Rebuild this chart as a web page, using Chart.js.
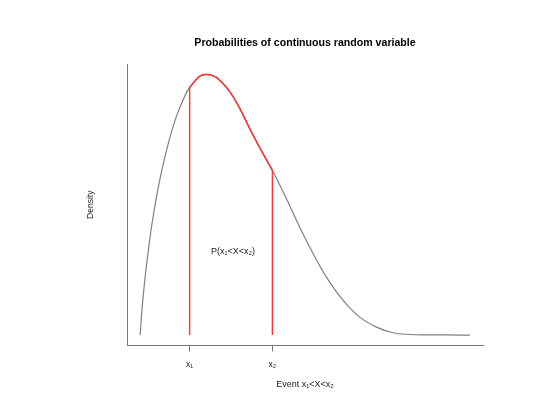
<!DOCTYPE html>
<html>
<head>
<meta charset="utf-8">
<title>Probabilities of continuous random variable</title>
<script src="https://cdn.jsdelivr.net/npm/chart.js@4.4.1/dist/chart.umd.min.js"></script>
<style>
    html, body { margin: 0; padding: 0; background: #fff; }
    #wrap { width: 534px; height: 409px; }
</style>
</head>
<body>
<div id="wrap"><canvas id="grafico"></canvas></div>
<script>
// Curva de densidad
const densityX = [0, 0.06, 0.16, 0.26, 0.36, 0.52, 0.67, 0.87, 1.10, 1.35, 1.50, 1.80, 2.00, 2.31, 2.71, 3.02, 3.32, 3.62, 4.01, 4.43, 4.84, 5.24, 5.65, 6.15, 6.66, 7.17, 7.67, 8.18, 8.70, 9.30, 10];
const densityY = [0, 0.028, 0.061, 0.088, 0.112, 0.143, 0.167, 0.194, 0.219, 0.239, 0.248, 0.259, 0.261, 0.258, 0.244, 0.227, 0.207, 0.188, 0.165, 0.137, 0.108, 0.082, 0.058, 0.035, 0.018, 0.008, 0.0023, 0.0006, 0.0002, 0.0001, 0];

// Tramo entre x1 y x2 (en rojo)
const areaX = [1.50, 1.80, 2.00, 2.31, 2.71, 3.02, 3.32, 3.62, 4.01];
const areaY = [0.248, 0.259, 0.261, 0.258, 0.244, 0.227, 0.207, 0.188, 0.165];

const eventBounds = [1.50, 4.01];
const tickLabels = ['x₁', 'x₂'];

const chartTitle = 'Probabilities of continuous random variable';
const xTitle = 'Event x₁<X<x₂';
const yTitle = 'Density';
const areaLabel = 'P(x₁<X<x₂)';

document.addEventListener('DOMContentLoaded', () => {
    const toPoints = (xs, ys) => xs.map((x, i) => ({ x: x, y: ys[i] }));
    const boundTop = [areaY[0], areaY[areaY.length - 1]];

    // rango como en R: 4% de margen a cada lado
    const xPad = (densityX[densityX.length - 1] - densityX[0]) * 0.04;
    const yMax = Math.max(...densityY);
    const yPad = yMax * 0.04;
    const fuente = '"Liberation Sans", Arial, sans-serif';

    const textos = {
        id: 'textos',
        afterDraw(chart) {
            const { ctx, chartArea, scales } = chart;
            const cx = (chartArea.left + chartArea.right) / 2;
            ctx.save();
            ctx.fillStyle = '#000';
            ctx.textAlign = 'center';
            ctx.textBaseline = 'middle';

            ctx.font = 'bold 10.6px ' + fuente;
            ctx.fillText(chartTitle, cx, chartArea.top - 21);

            ctx.fillStyle = '#222';
            ctx.font = '9px ' + fuente;
            ctx.fillText(xTitle, cx, chartArea.bottom + 39.5);

            const px = scales.x.getPixelForValue((eventBounds[0] + eventBounds[1]) / 2);
            const py = scales.y.getPixelForValue(yMax * 0.32);
            ctx.fillText(areaLabel, px + 2, py);

            ctx.font = '8.5px ' + fuente;
            ctx.translate(chartArea.left - 36, (chartArea.top + chartArea.bottom) / 2);
            ctx.rotate(-Math.PI / 2);
            ctx.fillText(yTitle, 0, 0);
            ctx.restore();
        }
    };

    const lineaRoja = (x, top) => ({
        data: [{ x: x, y: 0 }, { x: x, y: top }],
        borderColor: '#f33',
        borderWidth: 1.4,
        pointRadius: 0
    });

    // el primer dataset se dibuja encima
    new Chart(document.getElementById('grafico'), {
        type: 'line',
        data: {
            datasets: [
                {
                    data: toPoints(areaX, areaY),
                    borderColor: '#f33',
                    borderWidth: 1.5,
                    pointRadius: 0,
                    tension: 0.4
                },
                lineaRoja(eventBounds[0], boundTop[0]),
                lineaRoja(eventBounds[1], boundTop[1]),
                {
                    data: toPoints(densityX, densityY),
                    borderColor: '#808080',
                    borderWidth: 1.2,
                    pointRadius: 0,
                    tension: 0.4
                }
            ]
        },
        options: {
            responsive: true,
            maintainAspectRatio: false,
            animation: false,
            layout: { padding: { left: 127, right: 51, top: 64, bottom: 23.5 } },
            plugins: {
                legend: { display: false },
                tooltip: { enabled: false }
            },
            scales: {
                x: {
                    type: 'linear',
                    min: densityX[0] - xPad,
                    max: densityX[densityX.length - 1] + xPad,
                    afterBuildTicks: (scale) => {
                        scale.ticks = eventBounds.map(v => ({ value: v }));
                    },
                    afterFit: (scale) => { scale.height = 40; },
                    ticks: {
                        callback: (value, index) => tickLabels[index],
                        font: { size: 8.5, family: fuente },
                        color: '#222',
                        padding: 8,
                        maxRotation: 0
                    },
                    grid: { drawOnChartArea: false, drawTicks: true, tickLength: 6, color: '#777' },
                    border: { color: '#777', width: 1 }
                },
                y: {
                    min: -yPad,
                    max: yMax + yPad,
                    afterFit: (scale) => { scale.width = 0; },
                    ticks: { display: false },
                    grid: { drawOnChartArea: false, drawTicks: false },
                    border: { color: '#777', width: 1 }
                }
            }
        },
        plugins: [textos]
    });
});
</script>
</body>
</html>
